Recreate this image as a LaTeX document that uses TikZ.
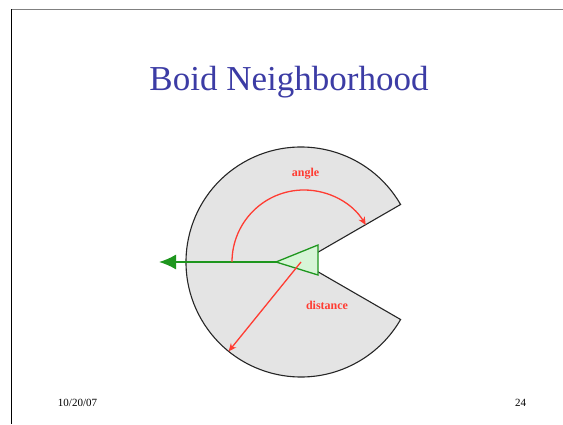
\documentclass[tikz,border=0pt]{standalone}
\usepackage{fontspec}
\setmainfont{Liberation Serif}
\usetikzlibrary{arrows.meta,calc}
\definecolor{titleblue}{RGB}{60,60,165}
\definecolor{zonegray}{RGB}{228,228,228}
\definecolor{boidgreen}{RGB}{30,150,30}
\definecolor{boidfill}{RGB}{215,245,215}
\definecolor{lblred}{RGB}{255,60,50}
\tikzset{
  redarrow/.style={draw=lblred, line width=1.3pt, -{Stealth[length=8pt,width=7pt]}},
  redlabel/.style={text=lblred, font=\fontsize{12}{13}\selectfont\bfseries, inner sep=0pt},
  footer/.style={font=\fontsize{11}{12}\selectfont, inner sep=0pt},
}
\begin{document}
\begin{tikzpicture}[x=1pt,y=1pt]
\useasboundingbox[fill=white] (0,0) rectangle (563,424);
% frame
\draw[gray, line width=1.5pt] (11,414.5) -- (563,414.5);
\draw[black, line width=0.8pt] (11,414.5) -- (11,0);
% title
\node[text=titleblue, font=\fontsize{35}{40}\selectfont, inner sep=0pt, anchor=base] (title) at (289,333) {Boid Neighborhood};
% neighborhood
\coordinate (c) at (301,162);
\draw[fill=zonegray, draw=black!85, line width=1.1pt]
  (c) -- ($(c)+(30:115)$) arc[start angle=30, end angle=330, radius=115] -- cycle;
% boid
\coordinate (apex) at (276,162);
\coordinate (bt) at (318,179);
\coordinate (bb) at (318,149);
\draw[fill=boidfill, draw=boidgreen, line width=1.3pt] (apex) -- (bt) -- (bb) -- cycle;
\coordinate (head) at (159,162);
\draw[boidgreen, line width=1.6pt, -{Latex[length=17pt,width=15pt]}] (apex) -- (head);
% angle arc
\draw[redarrow] ($(c)+(180:69)$) arc[start angle=180, end angle=31, radius=72];
\node[redlabel] (anglelbl) at (305.5,250) {angle};
% distance
\coordinate (dend) at ($(c)+(231:115)$);
\draw[redarrow] (c) -- (dend);
\node[redlabel] (distlbl) at (327,119) {distance};
% footer
\node[footer] (date) at (77.5,21) {10/20/07};
\node[footer] (page) at (520.5,21) {24};
\end{tikzpicture}
\end{document}
